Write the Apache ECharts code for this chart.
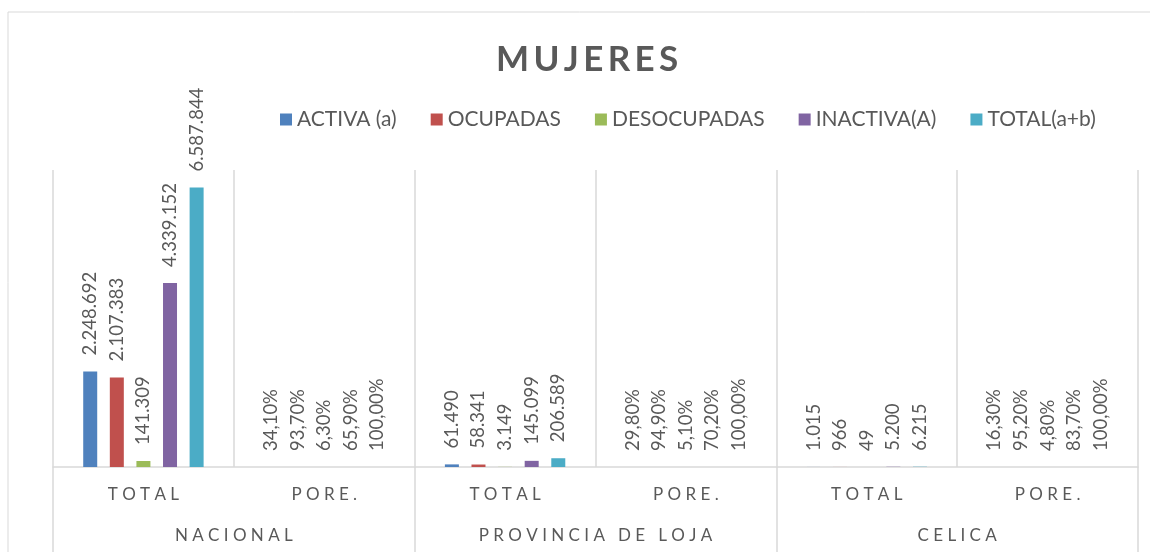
<!DOCTYPE html>
<html>
<head>
<meta charset="utf-8">
<script src="https://cdn.jsdelivr.net/npm/echarts@6/dist/echarts.min.js"></script>
<style>
html,body{margin:0;padding:0;background:#fff;}
#chart{width:1150px;height:552px;}
</style>
</head>
<body>
<div id="chart"></div>
<script>
var title = 'M\u2009U\u2009J\u2009E\u2009R\u2009E\u2009S';
var categories = ['T O T A L', 'P O R E .', 'T O T A L', 'P O R E .', 'T O T A L', 'P O R E .'];
var groups = ['N A C I O N A L', 'P R O V I N C I A   D E   L O J A', 'C E L I C A'];
var seriesNames = ['ACTIVA (a)', 'OCUPADAS', 'DESOCUPADAS', 'INACTIVA(A)', 'TOTAL(a+b)'];
var activa      = [2248692, 34.10, 61490, 29.80, 1015, 16.30];
var ocupadas    = [2107383, 93.70, 58341, 94.90, 966, 95.20];
var desocupadas = [141309, 6.30, 3149, 5.10, 49, 4.80];
var inactiva    = [4339152, 65.90, 145099, 70.20, 5200, 83.70];
var totalAB     = [6587844, 100.00, 206589, 100.00, 6215, 100.00];
var isPercent   = [false, true, false, true, false, true];

var colors = ['#4F81BD', '#C0504D', '#9BBB59', '#8064A2', '#4BACC6'];
var values = [activa, ocupadas, desocupadas, inactiva, totalAB];
var FONT = 'Lato';
var TXT = '#595959';

function fmt(p) {
  var v = p.value;
  if (isPercent[p.dataIndex]) {
    return v.toFixed(2).replace('.', ',') + '%';
  }
  return String(Math.round(v)).replace(/\B(?=(\d{3})+(?!\d))/g, '.');
}

var series = seriesNames.map(function (name, i) {
  return {
    name: name,
    type: 'bar',
    data: values[i],
    xAxisIndex: 0,
    barWidth: 14,
    barGap: '90%',
    itemStyle: { color: colors[i] },
    label: {
      show: true,
      position: 'top',
      rotate: 90,
      align: 'left',
      verticalAlign: 'middle',
      distance: 16,
      color: TXT,
      fontFamily: FONT,
      fontSize: 18.5,
      formatter: fmt
    },
    animation: false
  };
});

var chart = echarts.init(document.getElementById('chart'), null, { renderer: 'canvas' });
chart.setOption({
  animation: false,
  color: colors,
  title: {
    text: title,
    left: 491,
    top: 37,
    textStyle: { color: TXT, fontFamily: FONT, fontWeight: 'bold', fontSize: 35 }
  },
  legend: {
    left: 275,
    top: 104,
    icon: 'rect',
    itemWidth: 12,
    itemHeight: 12,
    itemGap: 34,
    textStyle: { color: TXT, fontFamily: FONT, fontSize: 21 },
    data: seriesNames
  },
  graphic: [{
    type: 'rect',
    shape: { x: 8, y: 12, width: 1300, height: 700 },
    style: { fill: 'none', stroke: '#d9d9d9', lineWidth: 1 },
    silent: true,
    z: -10
  }],
  grid: { left: 53, right: 12, top: 170, bottom: 85, containLabel: false },
  xAxis: [{
    type: 'category',
    data: categories,
    position: 'bottom',
    axisLine: { show: true, lineStyle: { color: '#d9d9d9', width: 1.5 } },
    axisTick: { show: false },
    splitLine: { show: true, interval: 0, lineStyle: { color: '#d9d9d9', width: 1.5 } },
    axisLabel: { color: TXT, fontFamily: FONT, fontSize: 17, margin: 19, interval: 0 }
  }, {
    type: 'category',
    data: groups,
    position: 'bottom',
    offset: 0,
    axisLine: { show: false },
    axisTick: { show: true, length: 86, interval: 0, lineStyle: { color: '#d9d9d9', width: 1.5 } },
    splitLine: { show: false },
    axisLabel: { color: TXT, fontFamily: FONT, fontSize: 17, margin: 60, interval: 0 }
  }],
  yAxis: {
    type: 'value',
    min: 0,
    max: 7000000,
    show: false,
    splitLine: { show: false }
  },
  series: series
});
</script>
</body>
</html>
